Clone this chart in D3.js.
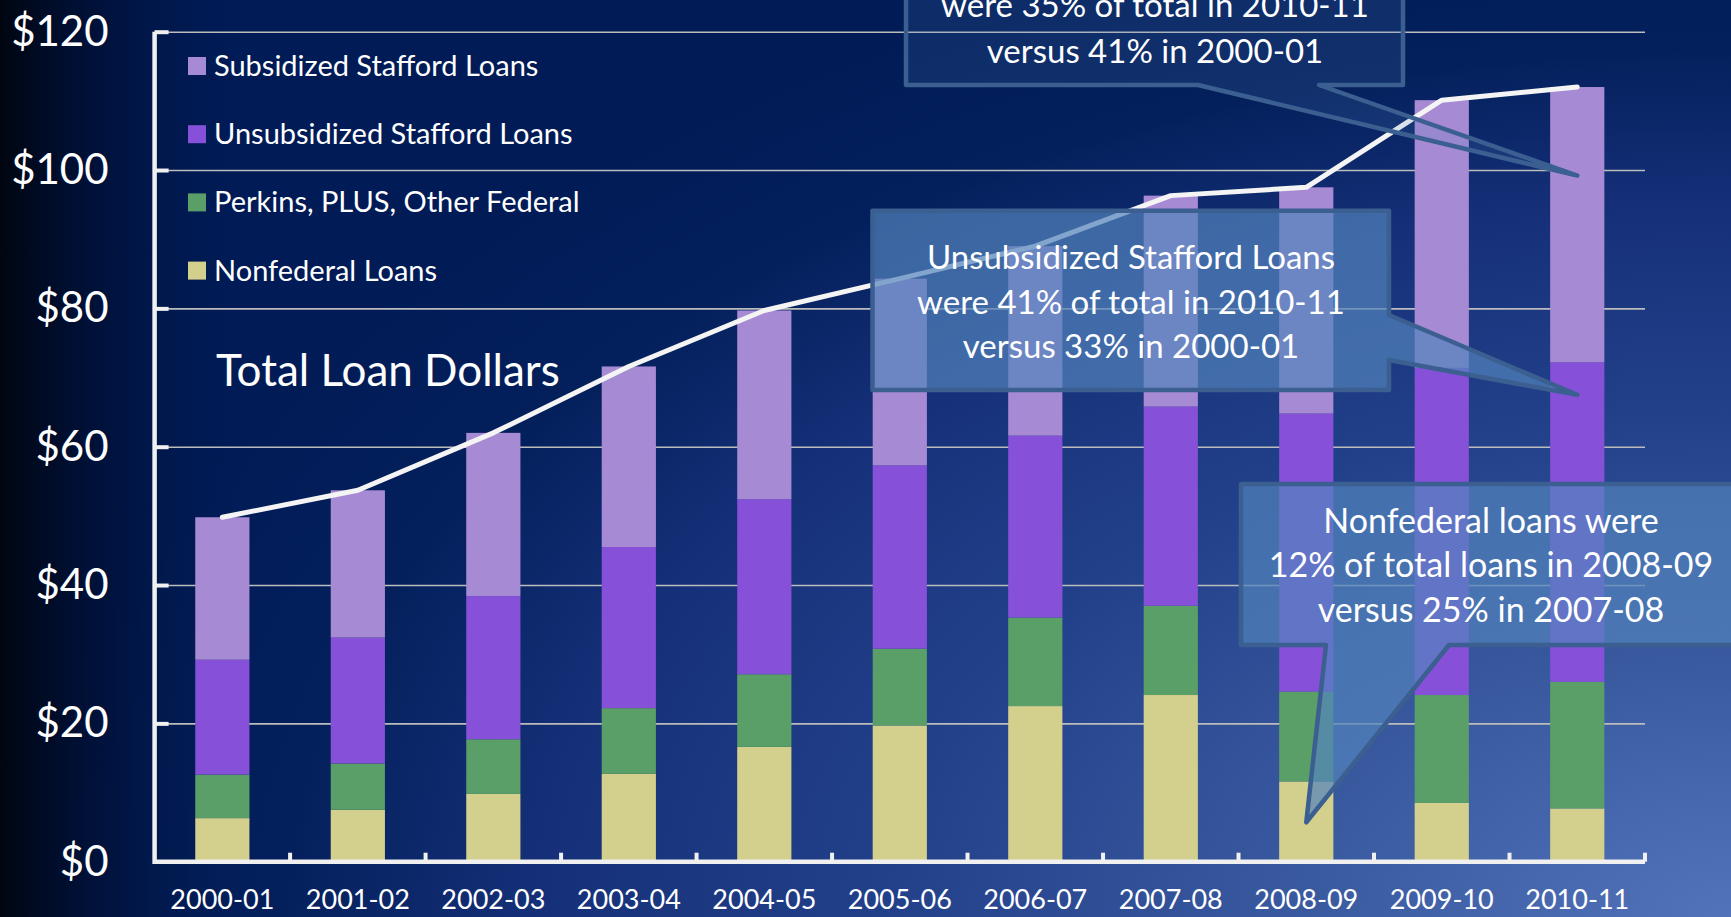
<!DOCTYPE html>
<html>
<head>
<meta charset="utf-8">
<script src="https://cdn.jsdelivr.net/npm/d3@7"></script>
<style>
  body { margin: 0; background: #001a55; overflow: hidden; }
  svg { display: block; font-family: Lato, "Open Sans", sans-serif; }
</style>
</head>
<body>
<div id="wrapper"></div>
<script>
// loan dollars, billions
const years = ["2000-01", "2001-02", "2002-03", "2003-04", "2004-05", "2005-06",
               "2006-07", "2007-08", "2008-09", "2009-10", "2010-11"]
const nonfederal  = [6.3, 7.5, 9.8, 12.7, 16.6, 19.7, 22.5, 24.1, 11.6, 8.5, 7.7]
const perkinsPlus = [6.3, 6.7, 7.9, 9.5, 10.5, 11.1, 12.8, 12.9, 13.0, 15.6, 18.3]
const unsubsidized = [16.6, 18.2, 20.7, 23.3, 25.3, 26.5, 26.3, 28.8, 40.2, 47.3, 46.2]
const subsidized  = [20.6, 21.3, 23.6, 26.1, 27.3, 27.0, 27.4, 30.5, 32.7, 38.7, 39.8]

const seriesKeys = ["nonfederal", "perkins", "unsub", "sub"]
const seriesNames = ["Nonfederal Loans", "Perkins, PLUS, Other Federal",
                     "Unsubsidized Stafford Loans", "Subsidized Stafford Loans"]
const seriesColors = ["#d3cf8c", "#5a9f68", "#8650d9", "#a78ad4"]
const yTicks = [0, 20, 40, 60, 80, 100, 120]

// first line of this note ("Subsidized Stafford Loans") sits above the slide edge
const noteSub = ["were 35% of total in 2010-11", "versus 41% in 2000-01"]
const noteUnsub = ["Unsubsidized Stafford Loans", "were 41% of total in 2010-11", "versus 33% in 2000-01"]
const noteNonfed = ["Nonfederal loans were", "12% of total loans in 2008-09", "versus 25% in 2007-08"]

function drawChart() {
  const dataset = years.map((y, i) => ({
    year: y,
    nonfederal: nonfederal[i],
    perkins: perkinsPlus[i],
    unsub: unsubsidized[i],
    sub: subsidized[i],
  }))
  const xAccessor = d => d.year
  const totalAccessor = d => d3.sum(seriesKeys, k => d[k])

  // 2. dimensions
  let dimensions = {
    width: 1731,
    height: 917,
    margin: { top: 31.7, right: 86, bottom: 55.3, left: 154.6 },
  }
  dimensions.boundedWidth = dimensions.width - dimensions.margin.left - dimensions.margin.right
  dimensions.boundedHeight = dimensions.height - dimensions.margin.top - dimensions.margin.bottom

  // 3. canvas
  const wrapper = d3.select("#wrapper")
    .append("svg")
    .attr("width", dimensions.width)
    .attr("height", dimensions.height)

  const defs = wrapper.append("defs")
  const glow = defs.append("radialGradient")
    .attr("id", "bg-glow")
    .attr("gradientUnits", "userSpaceOnUse")
    .attr("cx", 1731).attr("cy", 917).attr("r", 1700)
    .attr("gradientTransform", "translate(1731,917) scale(1,0.6) translate(-1731,-917)")
  glow.selectAll("stop")
    .data([[0, "#5272ba"], [0.25, "#3a5aa0"], [0.5, "#22408a"], [0.7, "#153078"], [0.85, "#04205c"], [1, "#001b56"]])
    .join("stop")
      .attr("offset", d => d[0])
      .attr("stop-color", d => d[1])
  const shade = defs.append("linearGradient")
    .attr("id", "bg-shade")
    .attr("x1", 0).attr("x2", 1).attr("y1", 0).attr("y2", 0)
  shade.selectAll("stop")
    .data([[0, "#000510", 1], [0.35, "#000a24", 0.6], [1, "#001b56", 0]])
    .join("stop")
      .attr("offset", d => d[0])
      .attr("stop-color", d => d[1])
      .attr("stop-opacity", d => d[2])

  wrapper.append("rect")
    .attr("width", dimensions.width).attr("height", dimensions.height)
    .attr("fill", "url(#bg-glow)")
  wrapper.append("rect")
    .attr("width", 260).attr("height", dimensions.height)
    .attr("fill", "url(#bg-shade)")

  const bounds = wrapper.append("g")
    .attr("transform", `translate(${dimensions.margin.left}, ${dimensions.margin.top})`)

  // 4. scales
  const xScale = d3.scaleBand()
    .domain(years)
    .range([0, dimensions.boundedWidth])
    .paddingInner(0.6)
    .paddingOuter(0.3)

  const yScale = d3.scaleLinear()
    .domain([0, 120])
    .range([dimensions.boundedHeight, 0])

  const xCenter = y => xScale(y) + xScale.bandwidth() / 2

  // gridlines
  const grid = bounds.append("g")
    .call(d3.axisRight(yScale).tickValues(yTicks.slice(1)).tickSize(dimensions.boundedWidth).tickFormat(""))
  grid.select(".domain").remove()
  grid.selectAll("line").attr("stroke", "#bcbcbc").attr("stroke-width", 1.6)

  // 5. bars
  const stack = d3.stack().keys(seriesKeys)
  const stacked = stack(dataset)

  bounds.append("g")
    .selectAll("g")
    .data(stacked)
    .join("g")
      .attr("fill", (d, i) => seriesColors[i])
    .selectAll("rect")
    .data(d => d)
    .join("rect")
      .attr("x", d => xScale(d.data.year))
      .attr("y", d => yScale(d[1]))
      .attr("width", xScale.bandwidth())
      .attr("height", d => yScale(d[0]) - yScale(d[1]))

  // total line
  const lineGenerator = d3.line()
    .x(d => xCenter(xAccessor(d)))
    .y(d => yScale(totalAccessor(d)))

  bounds.append("path")
    .attr("d", lineGenerator(dataset))
    .attr("fill", "none")
    .attr("stroke", "#f4f4f4")
    .attr("stroke-width", 5)
    .attr("stroke-linecap", "round")
    .attr("stroke-linejoin", "round")

  // 6. peripherals
  const yAxis = bounds.append("g")
    .call(d3.axisLeft(yScale).tickValues(yTicks).tickSize(0).tickPadding(46).tickFormat(d => "$" + d))
  yAxis.select(".domain").remove()
  yAxis.selectAll("text")
    .attr("fill", "#ffffff")
    .style("font-size", "42px")
    .style("font-family", "Lato, sans-serif")

  const yStubs = bounds.append("g")
    .call(d3.axisRight(yScale).tickValues(yTicks.slice(1)).tickSize(14).tickFormat(""))
  yStubs.select(".domain").remove()
  yStubs.selectAll("line").attr("stroke", "#f0f0f0").attr("stroke-width", 4)

  const xAxis = bounds.append("g")
    .attr("transform", `translate(0, ${dimensions.boundedHeight})`)
    .call(d3.axisBottom(xScale).tickSize(0))
  xAxis.select(".domain").remove()
  xAxis.selectAll("text")
    .attr("y", 47)
    .attr("dy", null)
    .attr("fill", "#ffffff")
    .style("font-size", "27px")
    .style("font-family", "Lato, sans-serif")

  // band boundary ticks
  bounds.append("g")
    .selectAll("line")
    .data(years)
    .join("line")
      .attr("x1", d => xScale(d) + xScale.step() * (1 - xScale.paddingInner() / 2))
      .attr("x2", d => xScale(d) + xScale.step() * (1 - xScale.paddingInner() / 2))
      .attr("y1", dimensions.boundedHeight)
      .attr("y2", dimensions.boundedHeight - 9)
      .attr("stroke", "#f0f0f0")
      .attr("stroke-width", 4)

  // axis lines
  bounds.append("path")
    .attr("d", `M0,0V${dimensions.boundedHeight}H${dimensions.boundedWidth}`)
    .attr("fill", "none")
    .attr("stroke", "#f0f0f0")
    .attr("stroke-width", 4.5)

  // legend
  const legend = wrapper.append("g")
    .attr("transform", "translate(188, 66)")
  const legendItems = legend.selectAll("g")
    .data(d3.range(4).reverse())
    .join("g")
      .attr("transform", (d, i) => `translate(0, ${i * 68.2})`)
  legendItems.append("rect")
    .attr("x", 0).attr("y", -9)
    .attr("width", 18).attr("height", 18)
    .attr("fill", d => seriesColors[d])
  legendItems.append("text")
    .attr("x", 26)
    .attr("y", 10)
    .attr("fill", "#ffffff")
    .style("font-size", "29px")
    .text(d => seriesNames[d])

  wrapper.append("text")
    .attr("x", 216)
    .attr("y", 386)
    .attr("fill", "#ffffff")
    .style("font-size", "44px")
    .text("Total Loan Dollars")

  // 7. callouts
  const outline = d3.line().curve(d3.curveLinearClosed)
  const drawCallout = (points, alpha, lines, cx, firstBaseline, lineGap, size) => {
    const g = wrapper.append("g")
    g.append("path")
      .attr("d", outline(points))
      .attr("fill", "#5283bc")
      .attr("fill-opacity", alpha)
      .attr("stroke", "#3b5f90")
      .attr("stroke-width", 4.5)
      .attr("stroke-linejoin", "round")
    g.selectAll("text")
      .data(lines)
      .join("text")
        .attr("x", cx)
        .attr("y", (d, i) => firstBaseline + i * lineGap)
        .attr("text-anchor", "middle")
        .attr("fill", "#ffffff")
        .style("font-size", size + "px")
        .text(d => d)
  }

  const left = dimensions.margin.left
  const top = dimensions.margin.top
  const tip2011 = xCenter("2010-11") + left
  const tip0809 = xCenter("2008-09") + left

  drawCallout([[906, -60], [1403, -60], [1403, 85], [1319, 85],
               [tip2011, yScale(99.2) + top], [1198, 85], [906, 85]],
              0.17, noteSub, 1155, 16.7, 46, 33)

  drawCallout([[872.5, 210.7], [1389, 210.7], [1389, 315], [tip2011, yScale(67.5) + top],
               [1389, 360], [1389, 390], [872.5, 390]],
              0.7, noteUnsub, 1131, 269, 44.5, 33)

  drawCallout([[1241, 484], [1790, 484], [1790, 645], [1449, 645],
               [tip0809, yScale(5.7) + top], [1326, 645], [1241, 645]],
              0.7, noteNonfed, 1491, 532.7, 44.7, 34)
}
drawChart()
</script>
</body>
</html>
